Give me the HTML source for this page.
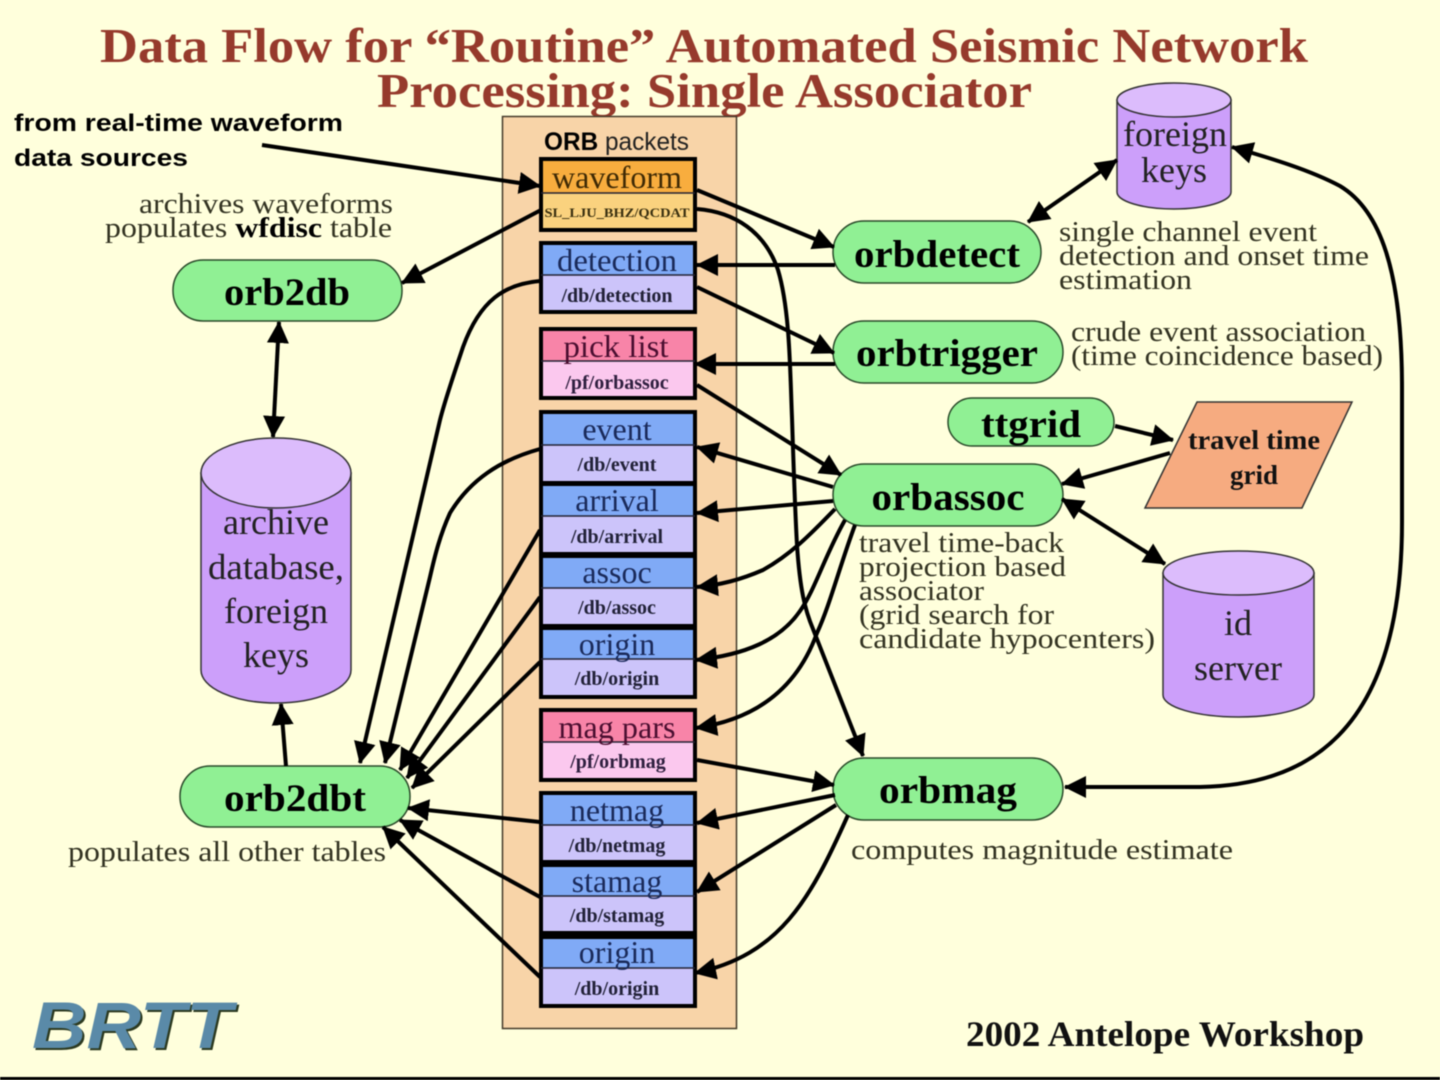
<!DOCTYPE html>
<html><head><meta charset="utf-8"><style>
html,body{margin:0;padding:0;background:#ffffdc}
svg{display:block;filter:blur(.5px)}
text{font-family:"Liberation Serif",serif}
.s{font-family:"Liberation Sans",sans-serif}
.t{font-size:32px;text-anchor:middle;fill:#1a2a5a}
.st{font-size:20px;font-weight:bold;text-anchor:middle;fill:#222238}
.n{font-size:39px;font-weight:bold;fill:#000;text-anchor:middle}
.c{font-size:29px;fill:#333322}
.big{font-size:36px;text-anchor:middle;fill:#222}
path.a,line.a{fill:none;stroke:#000;stroke-width:4;marker-end:url(#h)}
path.b,line.b{fill:none;stroke:#000;stroke-width:4;marker-end:url(#h);marker-start:url(#h)}
</style></head><body>
<svg width="1440" height="1080" viewBox="0 0 1440 1080" xmlns="http://www.w3.org/2000/svg">
<defs>
<marker id="h" markerUnits="userSpaceOnUse" markerWidth="26" markerHeight="26" refX="21" refY="11" orient="auto-start-reverse"><path d="M0,0 L22,11 L0,22 Z" fill="#000"/></marker>
</defs>
<rect width="1440" height="1080" fill="#ffffdc"/>
<rect x="0" y="1077" width="1440" height="3" fill="#000"/>

<text x="100" y="62" font-size="49" font-weight="bold" fill="#963a2c" textLength="1208" lengthAdjust="spacingAndGlyphs">Data Flow for “Routine” Automated Seismic Network</text>
<text x="377" y="107" font-size="49" font-weight="bold" fill="#963a2c" textLength="655" lengthAdjust="spacingAndGlyphs">Processing: Single Associator</text>

<rect x="502.500" y="116.500" width="234" height="912" fill="#f8d4a8" stroke="#443a2a" stroke-width="1.500"/>
<text x="544" y="150" font-size="25" class="s" textLength="145" lengthAdjust="spacingAndGlyphs" fill="#222"><tspan font-weight="bold" fill="#000">ORB</tspan> packets</text>

<!-- packets -->
<g stroke="#000" stroke-width="4">
<rect x="541" y="159" width="154" height="71" fill="#fad27e"/><rect x="541" y="159" width="154" height="34" fill="#f8ad3e" stroke-width="0"/>
<rect x="541" y="243" width="154" height="69" fill="#ccc4fa"/><rect x="541" y="243" width="154" height="32" fill="#80aaf6" stroke-width="0"/>
<rect x="541" y="329" width="154" height="69" fill="#fbc8ee"/><rect x="541" y="329" width="154" height="32" fill="#f884a8" stroke-width="0"/>
<rect x="541" y="412" width="154" height="71" fill="#ccc4fa"/><rect x="541" y="412" width="154" height="33" fill="#80aaf6" stroke-width="0"/>
<rect x="541" y="484" width="154" height="70" fill="#ccc4fa"/><rect x="541" y="484" width="154" height="32" fill="#80aaf6" stroke-width="0"/>
<rect x="541" y="556" width="154" height="70" fill="#ccc4fa"/><rect x="541" y="556" width="154" height="32" fill="#80aaf6" stroke-width="0"/>
<rect x="541" y="628" width="154" height="69" fill="#ccc4fa"/><rect x="541" y="628" width="154" height="31" fill="#80aaf6" stroke-width="0"/>
<rect x="541" y="710" width="154" height="70" fill="#fbc8ee"/><rect x="541" y="710" width="154" height="32" fill="#f884a8" stroke-width="0"/>
<rect x="541" y="793" width="154" height="69" fill="#ccc4fa"/><rect x="541" y="793" width="154" height="32" fill="#80aaf6" stroke-width="0"/>
<rect x="541" y="865" width="154" height="68" fill="#ccc4fa"/><rect x="541" y="865" width="154" height="31" fill="#80aaf6" stroke-width="0"/>
<rect x="541" y="937" width="154" height="69" fill="#ccc4fa"/><rect x="541" y="937" width="154" height="31" fill="#80aaf6" stroke-width="0"/>
</g>
<g fill="none" stroke="#000" stroke-width="4">
<rect x="541" y="159" width="154" height="71"/><rect x="541" y="243" width="154" height="69"/><rect x="541" y="329" width="154" height="69"/><rect x="541" y="412" width="154" height="71"/><rect x="541" y="484" width="154" height="70"/><rect x="541" y="556" width="154" height="70"/><rect x="541" y="628" width="154" height="69"/><rect x="541" y="710" width="154" height="70"/><rect x="541" y="793" width="154" height="69"/><rect x="541" y="865" width="154" height="68"/><rect x="541" y="937" width="154" height="69"/>
</g>
<g stroke="#223" stroke-width="1.500">
<line x1="541" x2="695" y1="193" y2="193"/><line x1="541" x2="695" y1="275" y2="275"/><line x1="541" x2="695" y1="361" y2="361"/><line x1="541" x2="695" y1="445" y2="445"/><line x1="541" x2="695" y1="516" y2="516"/><line x1="541" x2="695" y1="588" y2="588"/><line x1="541" x2="695" y1="659" y2="659"/><line x1="541" x2="695" y1="742" y2="742"/><line x1="541" x2="695" y1="825" y2="825"/><line x1="541" x2="695" y1="896" y2="896"/><line x1="541" x2="695" y1="968" y2="968"/>
</g>
<text class="t" x="617" y="188" style="fill:#3f2a05" textLength="130" lengthAdjust="spacingAndGlyphs">waveform</text>
<text x="617" y="217" font-size="12.500" font-weight="bold" text-anchor="middle" fill="#3a3010" textLength="145" lengthAdjust="spacingAndGlyphs">SL_LJU_BHZ/QCDAT</text>
<text class="t" x="617" y="271" textLength="120" lengthAdjust="spacingAndGlyphs">detection</text>
<text class="st" x="617" y="302">/db/detection</text>
<text class="t" x="616" y="357" style="fill:#4a0e30" textLength="105" lengthAdjust="spacingAndGlyphs">pick list</text>
<text class="st" x="617" y="389" style="fill:#302040">/pf/orbassoc</text>
<text class="t" x="617" y="440">event</text>
<text class="st" x="617" y="471">/db/event</text>
<text class="t" x="617" y="511">arrival</text>
<text class="st" x="617" y="543">/db/arrival</text>
<text class="t" x="617" y="583">assoc</text>
<text class="st" x="617" y="614">/db/assoc</text>
<text class="t" x="617" y="655">origin</text>
<text class="st" x="617" y="685">/db/origin</text>
<text class="t" x="617" y="738" style="fill:#4a0e30" textLength="117" lengthAdjust="spacingAndGlyphs">mag pars</text>
<text class="st" x="618" y="768" style="fill:#302040">/pf/orbmag</text>
<text class="t" x="617" y="821">netmag</text>
<text class="st" x="617" y="852">/db/netmag</text>
<text class="t" x="617" y="892">stamag</text>
<text class="st" x="617" y="922">/db/stamag</text>
<text class="t" x="617" y="963">origin</text>
<text class="st" x="617" y="995">/db/origin</text>

<!-- cylinders -->
<g fill="#cc9ffa" stroke="#333" stroke-width="1.500">
<path d="M1117,100 V192 A57,17 0 0 0 1231,192 V100 Z"/><ellipse cx="1174" cy="100" rx="57" ry="17" fill="#dcbcfc"/>
<path d="M201,473 V670 A75,33 0 0 0 351,670 V473 Z"/><ellipse cx="276" cy="473" rx="75" ry="35" fill="#dcbcfc"/>
<path d="M1163,573 V695 A75.500,22 0 0 0 1314,695 V573 Z"/><ellipse cx="1238.500" cy="573" rx="75.500" ry="22" fill="#dcbcfc"/>
</g>
<polygon points="1145,508 1197,402 1352,402 1302,508" fill="#f6ab80" stroke="#333" stroke-width="1.500"/>

<text class="big" x="1175" y="146">foreign</text><text class="big" x="1174" y="182">keys</text>
<text class="big" x="276" y="534">archive</text><text class="big" x="276" y="579" textLength="136" lengthAdjust="spacingAndGlyphs">database,</text><text class="big" x="276" y="623">foreign</text><text class="big" x="276" y="667">keys</text>
<text class="big" x="1238" y="635">id</text><text class="big" x="1238" y="680">server</text>
<text x="1254" y="449" font-size="27" font-weight="bold" text-anchor="middle" fill="#111" textLength="132" lengthAdjust="spacingAndGlyphs">travel time</text>
<text x="1254" y="484" font-size="27" font-weight="bold" text-anchor="middle" fill="#111">grid</text>

<!-- nodes -->
<g fill="#90f094" stroke="#2a4a2a" stroke-width="1.500">
<rect x="173" y="260" width="229" height="61" rx="30"/>
<rect x="833" y="221" width="208" height="62" rx="31"/>
<rect x="833" y="321" width="230" height="62" rx="31"/>
<rect x="948" y="398" width="166" height="48" rx="24"/>
<rect x="833" y="464" width="230" height="62" rx="31"/>
<rect x="833" y="758" width="230" height="62" rx="31"/>
<rect x="180" y="766" width="230" height="61" rx="30"/>
</g>
<text class="n" x="287" y="305" textLength="126" lengthAdjust="spacingAndGlyphs">orb2db</text>
<text class="n" x="937" y="267" textLength="166" lengthAdjust="spacingAndGlyphs">orbdetect</text>
<text class="n" x="947" y="366" textLength="182" lengthAdjust="spacingAndGlyphs">orbtrigger</text>
<text class="n" x="1031" y="437" textLength="100" lengthAdjust="spacingAndGlyphs">ttgrid</text>
<text class="n" x="948" y="510" textLength="153" lengthAdjust="spacingAndGlyphs">orbassoc</text>
<text class="n" x="948" y="803" textLength="138" lengthAdjust="spacingAndGlyphs">orbmag</text>
<text class="n" x="295" y="811" textLength="142" lengthAdjust="spacingAndGlyphs">orb2dbt</text>

<!-- connectors -->
<line class="a" x1="262" y1="145" x2="540" y2="186"/>
<line class="a" x1="541" y1="210" x2="402" y2="283"/>
<line class="b" x1="279" y1="322" x2="273" y2="437"/>
<line class="a" x1="286" y1="766" x2="281" y2="704"/>
<line class="a" x1="697" y1="190" x2="834" y2="247"/>
<line class="a" x1="835" y1="265" x2="697" y2="265"/>
<line class="a" x1="697" y1="287" x2="834" y2="353"/>
<line class="a" x1="835" y1="364" x2="695" y2="364"/>
<line class="a" x1="697" y1="385" x2="841" y2="475"/>
<path class="a" d="M697,209 C735,212 765,232 778,270 C790,310 790,370 792,418 C794,480 795,510 797,545 C800,590 805,610 813,629 L863,756"/>
<line class="b" x1="1028" y1="222" x2="1117" y2="160"/>
<line class="a" x1="1115" y1="426" x2="1173" y2="440"/>
<line class="a" x1="1170" y1="453" x2="1062" y2="484"/>
<line class="b" x1="1062" y1="499" x2="1165" y2="564"/>
<path class="b" d="M1232,147 C1270,158 1310,170 1340,186 C1380,210 1402,270 1402,388 L1402,522 C1402,740 1300,785 1200,787 L1065,787"/>
<line class="a" x1="833" y1="487" x2="697" y2="447"/>
<line class="a" x1="833" y1="501" x2="697" y2="513"/>
<path class="a" d="M835,509 C810,535 790,555 763,570 C740,580 720,585 697,587"/>
<path class="a" d="M845,520 C825,555 815,590 800,611 C780,640 745,655 696,660"/>
<path class="a" d="M855,525 C840,565 830,605 817,633 C800,680 765,718 696,728"/>
<line class="a" x1="697" y1="760" x2="834" y2="785"/>
<line class="a" x1="835" y1="795" x2="697" y2="823"/>
<line class="a" x1="836" y1="805" x2="697" y2="892"/>
<path class="a" d="M848,815 C810,900 780,955 695,973"/>
<path class="a" d="M540,281 C505,284 480,300 463,347 C452,380 445,400 440,420 L360,763"/>
<path class="a" d="M540,449 C500,460 470,480 450,513 C440,535 435,555 430,577 L385,763"/>
<line class="a" x1="540" y1="530" x2="400" y2="770"/>
<line class="a" x1="540" y1="597" x2="407" y2="778"/>
<line class="a" x1="540" y1="662" x2="412" y2="788"/>
<line class="a" x1="540" y1="822" x2="408" y2="808"/>
<line class="a" x1="540" y1="897" x2="400" y2="820"/>
<line class="a" x1="540" y1="977" x2="383" y2="827"/>

<!-- captions -->
<text class="s" x="14" y="131" font-size="24" font-weight="bold" fill="#000" textLength="329" lengthAdjust="spacingAndGlyphs">from real-time waveform</text>
<text class="s" x="14" y="166" font-size="24" font-weight="bold" fill="#000" textLength="174" lengthAdjust="spacingAndGlyphs">data sources</text>
<text class="c" x="139" y="213" textLength="254" lengthAdjust="spacingAndGlyphs">archives waveforms</text>
<text class="c" x="105" y="237" textLength="287" lengthAdjust="spacingAndGlyphs">populates <tspan font-weight="bold" fill="#000">wfdisc</tspan> table</text>
<text class="c" x="1059" y="241" textLength="258" lengthAdjust="spacingAndGlyphs">single channel event</text>
<text class="c" x="1059" y="265" textLength="310" lengthAdjust="spacingAndGlyphs">detection and onset time</text>
<text class="c" x="1059" y="289" textLength="133" lengthAdjust="spacingAndGlyphs">estimation</text>
<text class="c" x="1071" y="341" textLength="295" lengthAdjust="spacingAndGlyphs">crude event association</text>
<text class="c" x="1071" y="365" textLength="312" lengthAdjust="spacingAndGlyphs">(time coincidence based)</text>
<text class="c" x="859" y="552" textLength="205" lengthAdjust="spacingAndGlyphs">travel time-back</text>
<text class="c" x="859" y="576" textLength="207" lengthAdjust="spacingAndGlyphs">projection based</text>
<text class="c" x="859" y="600" textLength="125" lengthAdjust="spacingAndGlyphs">associator</text>
<text class="c" x="859" y="624" textLength="195" lengthAdjust="spacingAndGlyphs">(grid search for</text>
<text class="c" x="859" y="648" textLength="296" lengthAdjust="spacingAndGlyphs">candidate hypocenters)</text>
<text class="c" x="68" y="861" textLength="318" lengthAdjust="spacingAndGlyphs">populates all other tables</text>
<text class="c" x="851" y="859" textLength="382" lengthAdjust="spacingAndGlyphs">computes magnitude estimate</text>
<text x="966" y="1046" font-size="36" font-weight="bold" fill="#111" textLength="398" lengthAdjust="spacingAndGlyphs">2002 Antelope Workshop</text>

<text class="s" x="34" y="1050" font-size="66" font-weight="bold" font-style="italic" fill="#2c3a20" textLength="200" lengthAdjust="spacingAndGlyphs">BRTT</text>
<text class="s" x="32" y="1048" font-size="66" font-weight="bold" font-style="italic" fill="#5a8aa8" textLength="200" lengthAdjust="spacingAndGlyphs">BRTT</text>
</svg>
</body></html>
